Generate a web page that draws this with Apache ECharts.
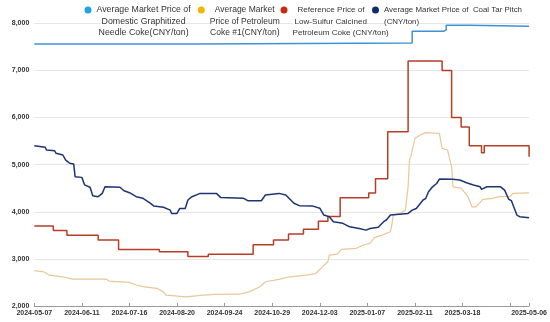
<!DOCTYPE html>
<html>
<head>
<meta charset="utf-8">
<script src="https://cdn.jsdelivr.net/npm/echarts@6/dist/echarts.min.js"></script>
<style>
  html, body { margin: 0; padding: 0; background: #fff; }
  #chart { width: 550px; height: 322px; }
</style>
</head>
<body>
<div id="chart"></div>
<script>
// Price series (CNY/ton), each as [date, price] readings
const seriesNames = [
  'Average Market Price of\nDomestic Graphitized\nNeedle Coke(CNY/ton)',
  'Average Market\nPrice of Petroleum\nCoke #1(CNY/ton)',
  'Reference Price of\nLow-Sulfur Calcined\nPetroleum Coke (CNY/ton)',
  'Average Market Price of  Coal Tar Pitch\n(CNY/ton)'
];

// Needle coke: price changes (held until the next change)
const needleCoke = [
  ['2024-05-07', 7560], ['2024-09-03', 7580], ['2025-02-09', 7830], ['2025-03-04', 7860],
  ['2025-03-06', 7960], ['2025-03-23', 7940], ['2025-05-06', 7940]
];

const petroleumCoke = [
  ['2024-05-07', 2750], ['2024-05-14', 2725], ['2024-05-18', 2655], ['2024-05-28', 2620],
  ['2024-06-04', 2570], ['2024-06-29', 2570], ['2024-07-01', 2530], ['2024-07-16', 2500],
  ['2024-07-21', 2445], ['2024-07-26', 2410], ['2024-08-05', 2375], ['2024-08-10', 2300],
  ['2024-08-12', 2230], ['2024-08-27', 2195], ['2024-09-08', 2230], ['2024-09-18', 2245],
  ['2024-10-05', 2250], ['2024-10-12', 2300], ['2024-10-20', 2410], ['2024-10-24', 2515],
  ['2024-11-03', 2565], ['2024-11-11', 2620], ['2024-11-23', 2655], ['2024-11-30', 2690],
  ['2024-12-05', 2830], ['2024-12-09', 2940], ['2024-12-10', 3080], ['2024-12-16', 3100],
  ['2024-12-19', 3200], ['2024-12-30', 3225], ['2025-01-04', 3295], ['2025-01-09', 3330],
  ['2025-01-12', 3450], ['2025-01-18', 3505], ['2025-01-24', 3575], ['2025-01-25', 3720],
  ['2025-01-26', 3930], ['2025-01-31', 3965], ['2025-02-04', 4035], ['2025-02-06', 4530],
  ['2025-02-07', 5100], ['2025-02-08', 5170], ['2025-02-11', 5560], ['2025-02-15', 5630],
  ['2025-02-19', 5680], ['2025-03-01', 5665], ['2025-03-03', 5345], ['2025-03-07', 5310],
  ['2025-03-10', 4955], ['2025-03-11', 4530], ['2025-03-17', 4500], ['2025-03-22', 4320],
  ['2025-03-25', 4105], ['2025-03-28', 4105], ['2025-04-02', 4265], ['2025-04-09', 4285],
  ['2025-04-14', 4320], ['2025-04-22', 4320], ['2025-04-24', 4390], ['2025-05-06', 4400]
];

// Low-sulfur calcined coke: price changes (held until the next change)
const calcinedCoke = [
  ['2024-05-07', 3700], ['2024-05-21', 3600], ['2024-05-31', 3500], ['2024-06-23', 3400],
  ['2024-07-08', 3200], ['2024-08-07', 3150], ['2024-08-28', 3050], ['2024-09-12', 3100],
  ['2024-10-15', 3300], ['2024-10-30', 3400], ['2024-11-10', 3530], ['2024-11-21', 3630],
  ['2024-12-02', 3800], ['2024-12-09', 3900], ['2024-12-18', 4300], ['2025-01-08', 4400],
  ['2025-01-13', 4700], ['2025-01-22', 5700], ['2025-02-06', 7200], ['2025-03-03', 7000],
  ['2025-03-10', 6000], ['2025-03-17', 5800], ['2025-03-23', 5400], ['2025-04-01', 5250],
  ['2025-04-03', 5400], ['2025-05-06', 5170]
];

const coalTarPitch = [
  ['2024-05-07', 5400], ['2024-05-15', 5370], ['2024-05-16', 5310], ['2024-05-22', 5295],
  ['2024-05-23', 5240], ['2024-05-28', 5205], ['2024-05-30', 5100], ['2024-06-02', 5030],
  ['2024-06-05', 5015], ['2024-06-06', 4745], ['2024-06-11', 4730], ['2024-06-13', 4570],
  ['2024-06-17', 4520], ['2024-06-19', 4340], ['2024-06-23', 4320], ['2024-06-26', 4390],
  ['2024-06-28', 4530], ['2024-07-09', 4520], ['2024-07-12', 4445], ['2024-07-16', 4405],
  ['2024-07-21', 4320], ['2024-07-26', 4285], ['2024-07-31', 4190], ['2024-08-03', 4120],
  ['2024-08-10', 4095], ['2024-08-15', 4035], ['2024-08-16', 3965], ['2024-08-20', 3965],
  ['2024-08-22', 4070], ['2024-08-26', 4070], ['2024-08-28', 4250], ['2024-08-31', 4320],
  ['2024-09-06', 4390], ['2024-09-18', 4390], ['2024-09-21', 4305], ['2024-10-08', 4285],
  ['2024-10-11', 4235], ['2024-10-21', 4235], ['2024-10-24', 4355], ['2024-11-03', 4390],
  ['2024-11-08', 4355], ['2024-11-14', 4180], ['2024-11-18', 4130], ['2024-11-28', 4120],
  ['2024-12-03', 4075], ['2024-12-06', 3930], ['2024-12-10', 3895], ['2024-12-13', 3790],
  ['2024-12-20', 3755], ['2024-12-25', 3680], ['2025-01-01', 3645], ['2025-01-06', 3610],
  ['2025-01-09', 3645], ['2025-01-15', 3670], ['2025-01-19', 3790], ['2025-01-21', 3825],
  ['2025-01-24', 3930], ['2025-02-06', 3965], ['2025-02-09', 4035], ['2025-02-12', 4070],
  ['2025-02-17', 4250], ['2025-02-19', 4285], ['2025-02-21', 4425], ['2025-02-24', 4530],
  ['2025-02-27', 4600], ['2025-03-01', 4695], ['2025-03-11', 4690], ['2025-03-16', 4675],
  ['2025-03-21', 4615], ['2025-03-26', 4570], ['2025-03-31', 4530], ['2025-04-01', 4475],
  ['2025-04-05', 4530], ['2025-04-15', 4530], ['2025-04-18', 4460], ['2025-04-21', 4265],
  ['2025-04-23', 4235], ['2025-04-27', 3930], ['2025-04-29', 3895], ['2025-05-06', 3875]
];

// Date axis: ticks every 35 days plus the last day; one label left out where it would collide
const tickDates = [
  '2024-05-07', '2024-06-11', '2024-07-16', '2024-08-20', '2024-09-24', '2024-10-29',
  '2024-12-03', '2025-01-07', '2025-02-11', '2025-03-18', '2025-04-22', '2025-05-06'
];
const labelDates = [
  '2024-05-07', '2024-06-11', '2024-07-16', '2024-08-20', '2024-09-24', '2024-10-29',
  '2024-12-03', '2025-01-07', '2025-02-11', '2025-03-18', '2025-05-06'
];

const iconColors = ['#1ea0e6', '#f4b400', '#cc2a10', '#0d2c6e'];
const lineColors = ['#3f92d4', '#e9c796', '#b73d27', '#1e3575'];

function ts(s) {
  const p = s.split('-').map(Number);
  return new Date(p[0], p[1] - 1, p[2]).getTime();
}
const toPoints = arr => arr.map(d => [ts(d[0]), d[1]]);

const FONT = 'Liberation Sans';
const LH = 11.5;

// Legend entries: circle marker sits beside the first text line.
// align: 'center' centres every line; an array gives a left indent per line.
function legendFor(i, left, fontSize, align) {
  const name = seriesNames[i];
  const lines = name.split('\n');
  const h = 2 * (3.5 + (lines.length - 1) * LH / 2);
  const base = {
    fontFamily: FONT, fontSize: fontSize, lineHeight: LH, color: '#333',
    backgroundColor: '#fff'
  };
  const rich = {};
  lines.forEach((l, k) => {
    const indent = Array.isArray(align) ? align[k] : 0;
    rich['l' + k] = Object.assign({}, base, {
      align: align === 'center' ? 'center' : 'left',
      padding: [0, 0, 0, indent]
    });
  });
  return {
    data: [name],
    left: left,
    top: 4.25,
    padding: 0,
    itemWidth: 7,
    itemHeight: h,
    icon: 'path://M0,3.5A3.5,3.5,0,1,1,7,3.5A3.5,3.5,0,1,1,0,3.5ZM3.5,' + h + 'L3.5,' + h + 'Z',
    itemStyle: { borderWidth: 0 },
    formatter: n => n.split('\n').map((l, k) => '{l' + k + '|' + l + '}').join('\n'),
    textStyle: {
      fontFamily: FONT, fontSize: fontSize, lineHeight: LH, color: '#333',
      rich: rich
    }
  };
}

const chart = echarts.init(document.getElementById('chart'), null, { renderer: 'canvas' });

const seriesData = [needleCoke, petroleumCoke, calcinedCoke, coalTarPitch];
const stepped = ['end', false, 'end', false];

chart.setOption({
  animation: false,
  backgroundColor: '#fff',
  grid: { left: 34.3, right: 20.7, top: 23.3, bottom: 16 },
  legend: [
    legendFor(0, 84.5, 8.8, 'center'),
    legendFor(1, 197.8, 8.5, 'center'),
    legendFor(2, 280.5, 8.1, [5, 2, 0]),
    legendFor(3, 372, 7.9, [0, 0])
  ],
  xAxis: {
    type: 'time',
    min: ts(tickDates[0]),
    max: ts(tickDates[tickDates.length - 1]),
    splitLine: { show: false },
    axisLine: { lineStyle: { color: '#9a9a9a', width: 1 } },
    axisTick: {
      show: true, inside: true, length: 3,
      lineStyle: { color: '#9a9a9a' },
      customValues: tickDates.map(ts)
    },
    axisLabel: {
      customValues: labelDates.map(ts),
      formatter: '{yyyy}-{MM}-{dd}',
      fontFamily: FONT, fontSize: 7, fontWeight: 'bold', color: '#333', margin: 4,
      hideOverlap: false
    }
  },
  yAxis: {
    type: 'value',
    min: 2000, max: 8000, interval: 1000,
    axisLine: { show: false },
    axisTick: { show: false },
    splitLine: { lineStyle: { color: '#e6e6e6', width: 1 } },
    axisLabel: {
      fontFamily: FONT, fontSize: 7, fontWeight: 'bold', color: '#333', margin: 5
    }
  },
  series: seriesNames.map((name, i) => ({
    name: name,
    type: 'line',
    data: toPoints(seriesData[i]),
    step: stepped[i],
    showSymbol: false,
    symbol: 'none',
    itemStyle: { color: iconColors[i] },
    lineStyle: { color: lineColors[i], width: i === 1 ? 1.2 : 1.5 },
    z: [2, 3, 4, 5][i]
  }))
});
</script>
</body>
</html>
